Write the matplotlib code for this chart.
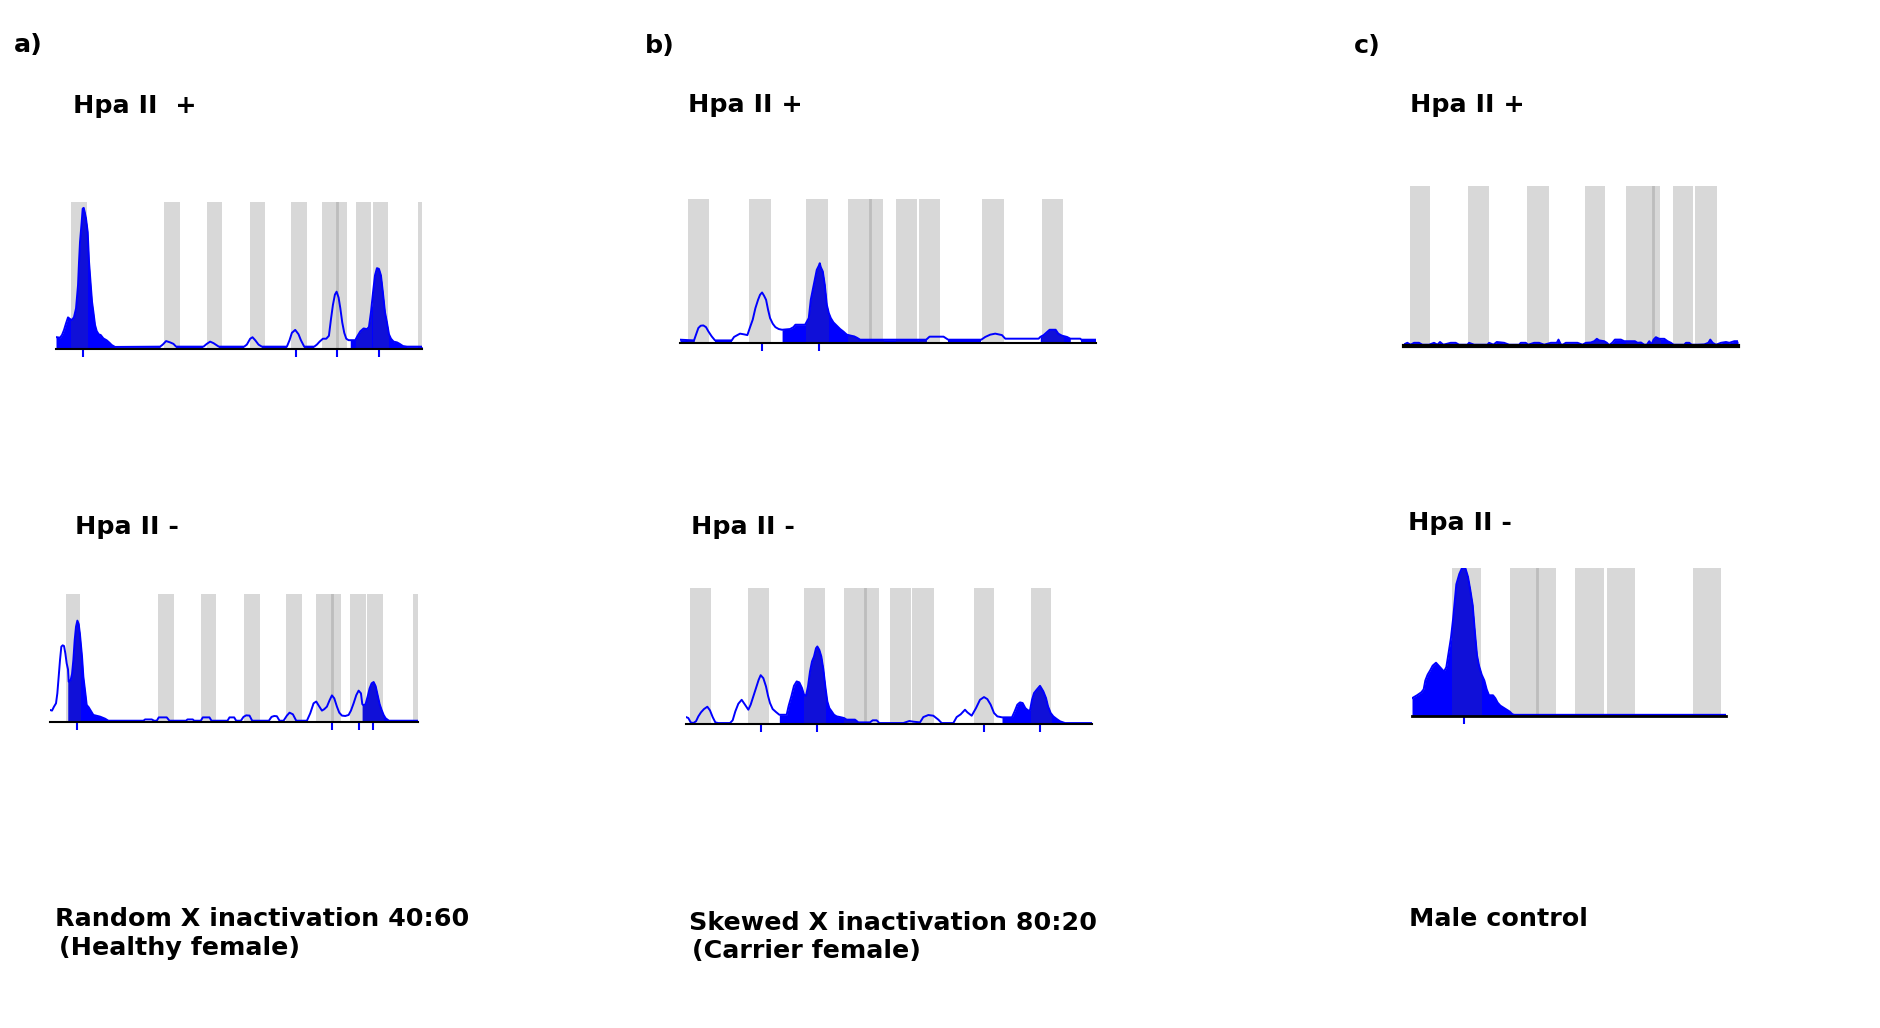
import numpy as np
import matplotlib
matplotlib.use("Agg")
import matplotlib.pyplot as plt
from matplotlib.patches import Rectangle

# ---- data (x in scan units, y as fraction of full scale)

# a) Hpa II +
a_plus_x = [0, 12, 18, 24, 30, 36, 42, 48, 54, 60, 66, 69, 72, 77, 80, 83, 86, 90, 95, 99, 104, 108, 112,
            117, 122, 128, 134, 142, 152, 160, 167, 177,
            312, 320, 330, 342, 352, 360,
            442, 452, 462, 472, 482, 488,
            564, 572, 582, 589, 597, 607, 617,
            692, 700, 707, 717, 727, 734, 744,
            774, 782, 790, 800, 810, 818, 824, 830, 836, 841, 847, 852, 858, 864, 870, 877, 882,
            897, 904, 912, 922, 932, 938, 944, 950, 956, 962, 968, 974, 980, 986, 992, 998, 1004, 1012,
            1022, 1030, 1040, 1052, 1097]
a_plus_y = [0.081, 0.077, 0.095, 0.129, 0.174, 0.215, 0.204, 0.197, 0.217, 0.276, 0.434, 0.593, 0.729, 0.864,
            0.955, 0.96, 0.932, 0.887, 0.796, 0.593, 0.439, 0.321, 0.253, 0.163, 0.122, 0.1, 0.095, 0.072,
            0.059, 0.043, 0.027, 0.014,
            0.016, 0.03, 0.054, 0.045, 0.035, 0.016,
            0.016, 0.035, 0.05, 0.04, 0.025, 0.016,
            0.016, 0.03, 0.07, 0.08, 0.06, 0.03, 0.016,
            0.016, 0.06, 0.11, 0.13, 0.1, 0.06, 0.016,
            0.016, 0.03, 0.05, 0.07, 0.07, 0.09, 0.2, 0.3, 0.37, 0.39, 0.35, 0.28, 0.18, 0.11, 0.07, 0.06, 0.06,
            0.06, 0.09, 0.12, 0.14, 0.135, 0.15, 0.25, 0.38, 0.5, 0.55, 0.545, 0.5, 0.38, 0.25, 0.18, 0.1,
            0.07, 0.05, 0.045, 0.035, 0.02, 0.016, 0.016]
a_plus_fill = [(0, 312), (360, 442), (488, 564), (617, 692), (744, 774), (882, 1097)]
a_plus_bins = [(45, 92), (324, 372), (453, 498), (582, 627), (705, 753), (798, 873), (900, 945),
               (951, 996), (1086, 1097)]
a_plus_marks = [841]
a_plus_ticks = [82, 718, 841, 968]

# a) Hpa II -
a_minus_x = [0, 6, 12, 18, 22, 26, 30, 34, 38, 42, 46, 50, 54, 56, 62, 66, 70, 74, 78, 82, 86, 90, 96, 100,
             106, 110, 116, 122, 130, 150, 165, 175, 280, 285, 305, 312, 320, 326, 350, 358, 408, 412, 428,
             432, 452, 458, 478, 484, 532, 538, 552, 558, 572, 580, 588, 598, 606, 656, 664, 672, 680, 688,
             700, 710, 718, 728, 738, 770, 780, 790, 798, 805, 815, 822, 830, 838, 845, 852, 860, 867, 875,
             885, 895, 902, 910, 918, 925, 932, 936, 940, 946, 952, 958, 964, 970, 976, 982, 988, 994, 1000,
             1006, 1016, 1103]
a_minus_y = [0.094, 0.089, 0.12, 0.146, 0.224, 0.354, 0.484, 0.589, 0.599, 0.594, 0.536, 0.458, 0.411, 0.315,
             0.328, 0.375, 0.484, 0.64, 0.745, 0.792, 0.766, 0.68, 0.51, 0.354, 0.224, 0.133, 0.115, 0.089,
             0.055, 0.042, 0.026, 0.01, 0.01, 0.02, 0.02, 0.01, 0.01, 0.036, 0.036, 0.01, 0.01, 0.02, 0.02,
             0.01, 0.01, 0.036, 0.036, 0.01, 0.01, 0.036, 0.036, 0.01, 0.01, 0.04, 0.052, 0.05, 0.01, 0.01,
             0.04, 0.047, 0.045, 0.01, 0.01, 0.05, 0.073, 0.06, 0.01, 0.01, 0.068, 0.146, 0.16, 0.13, 0.089,
             0.1, 0.12, 0.17, 0.208, 0.185, 0.12, 0.073, 0.05, 0.047, 0.055, 0.089, 0.146, 0.21, 0.245,
             0.224, 0.14, 0.13, 0.14, 0.198, 0.263, 0.302, 0.3125, 0.28, 0.21, 0.14, 0.094, 0.055, 0.029,
             0.01, 0.01]
a_minus_fill = [(54, 280), (936, 1103)]
a_minus_bins = [(48, 90), (324, 372), (453, 498), (582, 630), (708, 756), (798, 873), (900, 948),
                (951, 999), (1089, 1103)]
a_minus_marks = [845]
a_minus_ticks = [82, 845, 925, 969]

# b) Hpa II +
b_plus_x = [0, 42, 48, 55, 62, 70, 78, 85, 95, 105, 155, 162, 172, 180, 192, 202, 210, 218, 226, 234, 240,
            246, 252, 258, 264, 270, 278, 286, 296, 306, 330, 340, 346, 375, 380, 386, 392, 398, 404, 410,
            416, 419, 422, 428, 434, 440, 446, 452, 460, 470, 480, 490, 500, 512, 522, 530, 540, 738, 748,
            790, 804, 903, 915, 930, 945, 965, 975, 1075, 1080, 1090, 1108, 1126, 1134, 1145, 1160, 1170,
            1200, 1203, 1247]
b_plus_y = [0.023, 0.018, 0.058, 0.104, 0.12, 0.122, 0.11, 0.081, 0.046, 0.018, 0.018, 0.042, 0.055, 0.065,
            0.06, 0.055, 0.11, 0.162, 0.242, 0.3, 0.335, 0.351, 0.328, 0.3, 0.231, 0.173, 0.134, 0.11, 0.097,
            0.092, 0.097, 0.11, 0.127, 0.127, 0.148, 0.173, 0.3, 0.37, 0.439, 0.508, 0.536, 0.554, 0.527,
            0.497, 0.404, 0.266, 0.208, 0.173, 0.143, 0.12, 0.097, 0.079, 0.058, 0.051, 0.046, 0.037, 0.023,
            0.023, 0.044, 0.044, 0.023, 0.023, 0.042, 0.058, 0.065, 0.055, 0.03, 0.03, 0.042, 0.055, 0.092,
            0.092, 0.065, 0.051, 0.042, 0.03, 0.03, 0.023, 0.023]
b_plus_fill = [(0, 42), (105, 155), (306, 738), (804, 903), (1080, 1170), (1203, 1247)]
b_plus_bins = [(24, 87), (207, 273), (378, 444), (504, 609), (648, 711), (717, 780), (906, 972),
               (1086, 1149)]
b_plus_marks = [569]
b_plus_ticks = [246, 418]

# b) Hpa II -
b_minus_x = [0, 7, 14, 22, 30, 37, 45, 54, 64, 72, 80, 88, 97, 132, 140, 148, 157, 167, 177, 187, 194, 202,
             210, 218, 224, 232, 240, 246, 252, 260, 270, 280, 302, 308, 316, 324, 332, 340, 348, 354, 360,
             366, 372, 378, 384, 390, 394, 400, 406, 412, 418, 424, 430, 437, 444, 452, 462, 474, 482, 507,
             517, 552, 560, 572, 580, 652, 670, 682, 702, 712, 727, 742, 757, 767, 802, 812, 824, 837, 844,
             857, 870, 882, 894, 904, 914, 924, 934, 948, 978, 986, 994, 1002, 1010, 1018, 1026, 1032, 1038,
             1044, 1052, 1062, 1072, 1080, 1086, 1094, 1102, 1112, 1122, 1137, 1218]
b_minus_y = [0.051, 0.044, 0.012, 0.007, 0.02, 0.056, 0.086, 0.11, 0.127, 0.1, 0.051, 0.012, 0.007, 0.007,
             0.027, 0.093, 0.149, 0.178, 0.142, 0.105, 0.142, 0.203, 0.264, 0.325, 0.359, 0.337, 0.276,
             0.208, 0.154, 0.11, 0.088, 0.068, 0.068, 0.134, 0.203, 0.281, 0.313, 0.306, 0.264, 0.215,
             0.208, 0.276, 0.386, 0.46, 0.496, 0.557, 0.57, 0.545, 0.496, 0.403, 0.276, 0.166, 0.117,
             0.093, 0.068, 0.056, 0.051, 0.044, 0.032, 0.032, 0.012, 0.012, 0.027, 0.027, 0.007, 0.007,
             0.022, 0.017, 0.012, 0.051, 0.066, 0.061, 0.032, 0.007, 0.007, 0.051, 0.071, 0.105, 0.086,
             0.061, 0.117, 0.178, 0.198, 0.183, 0.142, 0.081, 0.056, 0.049, 0.049, 0.093, 0.142, 0.159,
             0.154, 0.117, 0.1, 0.1, 0.178, 0.227, 0.252, 0.281, 0.24, 0.191, 0.13, 0.081, 0.056, 0.037,
             0.02, 0.007, 0.007]
b_minus_fill = [(280, 517), (948, 1218)]
b_minus_bins = [(12, 75), (186, 249), (354, 417), (474, 579), (612, 675), (678, 744), (864, 924),
                (1035, 1095)]
b_minus_marks = [537]
b_minus_ticks = [225, 394, 895, 1063]

# c) Hpa II +
c_plus_x = [0, 10, 20, 30, 45, 55, 75, 90, 100, 108, 118, 140, 155, 165, 190, 195, 210, 250, 255, 268, 278,
            300, 315, 345, 350, 365, 372, 390, 405, 420, 440, 458, 463, 470, 476, 485, 520, 535, 545, 560,
            570, 578, 585, 600, 608, 615, 625, 632, 650, 660, 672, 685, 692, 700, 710, 720, 728, 735, 742,
            748, 755, 765, 780, 790, 800, 808, 840, 845, 855, 862, 880, 900, 912, 918, 925, 935, 950, 965,
            975, 990, 1001]
c_plus_y = [0.01, 0.02, 0.008, 0.02, 0.02, 0.008, 0.008, 0.02, 0.008, 0.025, 0.008, 0.02, 0.02, 0.008,
            0.008, 0.02, 0.008, 0.008, 0.02, 0.008, 0.025, 0.02, 0.008, 0.008, 0.02, 0.02, 0.008, 0.02, 0.02,
            0.008, 0.02, 0.02, 0.04, 0.01, 0.008, 0.02, 0.02, 0.008, 0.02, 0.022, 0.03, 0.045, 0.035, 0.03,
            0.02, 0.005, 0.022, 0.04, 0.04, 0.03, 0.03, 0.03, 0.03, 0.02, 0.022, 0.008, 0.008, 0.03, 0.01,
            0.04, 0.055, 0.045, 0.045, 0.03, 0.02, 0.008, 0.008, 0.02, 0.02, 0.008, 0.008, 0.01, 0.02, 0.04,
            0.02, 0.008, 0.02, 0.025, 0.02, 0.03, 0.03]
c_plus_fill = [(0, 1001)]
c_plus_bins = [(18, 78), (192, 255), (369, 435), (543, 603), (666, 768), (807, 867), (873, 939)]
c_plus_marks = [745]
c_plus_ticks = []

# c) Hpa II -
c_minus_x = [0, 15, 28, 35, 40, 47, 55, 62, 72, 80, 88, 96, 103, 110, 117, 123, 133, 142, 150, 160, 168,
             175, 182, 189, 195, 201, 209, 217, 224, 231, 243, 250, 257, 265, 279, 293, 301, 307, 942]
c_minus_y = [0.12, 0.14, 0.16, 0.18, 0.24, 0.28, 0.31, 0.34, 0.36, 0.34, 0.32, 0.30, 0.33, 0.43, 0.53, 0.65,
             0.89, 0.96, 1.0, 1.0, 0.94, 0.85, 0.75, 0.56, 0.41, 0.34, 0.28, 0.24, 0.18, 0.14, 0.14, 0.12,
             0.09, 0.07, 0.05, 0.03, 0.012, 0.008, 0.008]
c_minus_fill = [(0, 942)]
c_minus_bins = [(121, 207), (295, 433), (490, 577), (586, 670), (844, 928)]
c_minus_marks = [376]
c_minus_ticks = [156]

BLUE = "#0000ff"
DARK_BLUE = "#1010d8"
GRAY = "#d8d8d8"

W, H = 1880, 1028
fig = plt.figure(figsize=(W / 100, H / 100), dpi=100)


def panel(left, right, base, top, xmax, x, y, fill, bins, marks, ticks, base_lw=1.5):
    ax = fig.add_axes([left / W, 1 - base / H, (right - left) / W, (base - top) / H])
    x = np.asarray(x, dtype=float)
    y = np.asarray(y, dtype=float)
    for b0, b1 in bins:
        ax.axvspan(b0, b1, color=GRAY, lw=0, zorder=1)
    for m in marks:
        ax.axvline(m, color="#bdbdbd", lw=2, zorder=1.5)
    for f0, f1 in fill:
        inside = (x > f0) & (x < f1)
        fx = np.concatenate([[f0], x[inside], [f1]])
        fy = np.concatenate([[np.interp(f0, x, y)], y[inside], [np.interp(f1, x, y)]])
        ax.fill_between(fx, 0, fy, color=BLUE, lw=0, zorder=2)
        # darker blue where the peak sits in a bin
        for b0, b1 in bins:
            poly = ax.fill_between(fx, 0, fy, color=DARK_BLUE, lw=0, zorder=2.5)
            poly.set_clip_path(Rectangle((b0, -0.1), b1 - b0, 1.3, transform=ax.transData))
    ax.plot(x, y, color=BLUE, lw=1.4, zorder=3)
    ax.set_xlim(0, xmax)
    ax.set_ylim(0, 1)
    ax.patch.set_visible(False)
    for s in ["top", "right", "left"]:
        ax.spines[s].set_visible(False)
    ax.spines["bottom"].set_color("black")
    ax.spines["bottom"].set_linewidth(base_lw)
    ax.spines["bottom"].set_zorder(4)
    ax.set_yticks([])
    ax.set_xticks(ticks)
    ax.tick_params(axis="x", direction="out", length=6, width=1.5, color=BLUE, labelbottom=False)
    return ax


panel(56, 422, 349, 202, 1097, a_plus_x, a_plus_y, a_plus_fill, a_plus_bins, a_plus_marks, a_plus_ticks)
panel(50, 418, 722, 594, 1103, a_minus_x, a_minus_y, a_minus_fill, a_minus_bins, a_minus_marks, a_minus_ticks)
panel(680, 1096, 343, 199, 1247, b_plus_x, b_plus_y, b_plus_fill, b_plus_bins, b_plus_marks, b_plus_ticks)
panel(686, 1092, 724, 588, 1218, b_minus_x, b_minus_y, b_minus_fill, b_minus_bins, b_minus_marks, b_minus_ticks)
panel(1404, 1738, 346, 186, 1001, c_plus_x, c_plus_y, c_plus_fill, c_plus_bins, c_plus_marks, c_plus_ticks,
      base_lw=3)
panel(1412, 1726, 716, 568, 942, c_minus_x, c_minus_y, c_minus_fill, c_minus_bins, c_minus_marks, c_minus_ticks,
      base_lw=2)

labels = [
    ("a)", 14, 52), ("b)", 645, 53), ("c)", 1354, 53),
    ("Hpa II  +", 73, 113), ("Hpa II +", 688, 112), ("Hpa II +", 1410, 112),
    ("Hpa II -", 75, 534), ("Hpa II -", 691, 534), ("Hpa II -", 1408, 530),
    ("Random X inactivation 40:60", 55, 926), ("(Healthy female)", 59, 955),
    ("Skewed X inactivation 80:20", 689, 930), ("(Carrier female)", 692, 958),
    ("Male control", 1409, 926),
]
for s, lx, ly in labels:
    fig.text(lx / W, 1 - ly / H, s, fontsize=18.3, fontweight="bold", family="DejaVu Sans",
             ha="left", va="baseline", color="black")

fig.savefig("out.png", dpi=100, facecolor="white")
